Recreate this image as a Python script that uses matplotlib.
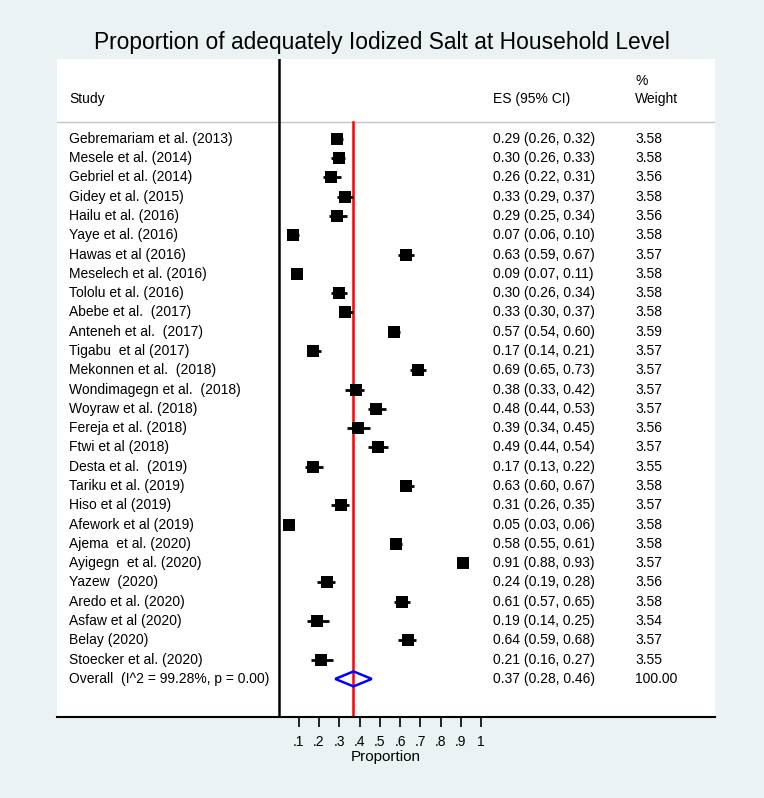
import matplotlib
matplotlib.use('Agg')
import matplotlib.pyplot as plt
from matplotlib.patches import Polygon
import numpy as np

# ---------------- data ----------------
studies = [
    "Gebremariam et al. (2013)", "Mesele et al. (2014)", "Gebriel et al. (2014)",
    "Gidey et al. (2015)", "Hailu et al. (2016)", "Yaye et al. (2016)",
    "Hawas et al (2016)", "Meselech et al. (2016)", "Tololu et al. (2016)",
    "Abebe et al.  (2017)", "Anteneh et al.  (2017)", "Tigabu  et al (2017)",
    "Mekonnen et al.  (2018)", "Wondimagegn et al.  (2018)", "Woyraw et al. (2018)",
    "Fereja et al. (2018)", "Ftwi et al (2018)", "Desta et al.  (2019)",
    "Tariku et al. (2019)", "Hiso et al (2019)", "Afework et al (2019)",
    "Ajema  et al. (2020)", "Ayigegn  et al. (2020)", "Yazew  (2020)",
    "Aredo et al. (2020)", "Asfaw et al (2020)", "Belay (2020)",
    "Stoecker et al. (2020)",
]
es = [0.29, 0.30, 0.26, 0.33, 0.29, 0.07, 0.63, 0.09, 0.30, 0.33, 0.57, 0.17, 0.69, 0.38,
      0.48, 0.39, 0.49, 0.17, 0.63, 0.31, 0.05, 0.58, 0.91, 0.24, 0.61, 0.19, 0.64, 0.21]
lo = [0.26, 0.26, 0.22, 0.29, 0.25, 0.06, 0.59, 0.07, 0.26, 0.30, 0.54, 0.14, 0.65, 0.33,
      0.44, 0.34, 0.44, 0.13, 0.60, 0.26, 0.03, 0.55, 0.88, 0.19, 0.57, 0.14, 0.59, 0.16]
hi = [0.32, 0.33, 0.31, 0.37, 0.34, 0.10, 0.67, 0.11, 0.34, 0.37, 0.60, 0.21, 0.73, 0.42,
      0.53, 0.45, 0.54, 0.22, 0.67, 0.35, 0.06, 0.61, 0.93, 0.28, 0.65, 0.25, 0.68, 0.27]
weight = [3.58, 3.58, 3.56, 3.58, 3.56, 3.58, 3.57, 3.58, 3.58, 3.58, 3.59, 3.57, 3.57, 3.57,
          3.57, 3.56, 3.57, 3.55, 3.58, 3.57, 3.58, 3.58, 3.57, 3.56, 3.58, 3.54, 3.57, 3.55]
overall_label = "Overall  (I^2 = 99.28%, p = 0.00)"
overall_es, overall_lo, overall_hi = 0.37, 0.28, 0.46
overall_weight = 100.00
xticks = [0.1, 0.2, 0.3, 0.4, 0.5, 0.6, 0.7, 0.8, 0.9, 1.0]
xtick_labels = [".1", ".2", ".3", ".4", ".5", ".6", ".7", ".8", ".9", "1"]
title = "Proportion of adequately Iodized Salt at Household Level"
xlabel = "Proportion"

# ---------------- layout ----------------
W, H = 764, 798
BG = '#EAF2F3'
FONT = 'Liberation Sans'
plt.rcParams['font.family'] = [FONT, 'DejaVu Sans']

fig = plt.figure(figsize=(W / 100, H / 100), dpi=100, facecolor=BG)
L, R, T, B = 57, 715, 59, 717
ax = fig.add_axes([L / W, 1 - B / H, (R - L) / W, (B - T) / H])
ax.set_facecolor('white')

PX_UNIT = 202.7      # pixels per unit proportion
X0 = 278.5           # pixel of proportion 0
ROW0, DY = 138.8, 19.29


def px_x(p):
    return (p - X0) / PX_UNIT


def px_y(p):
    return (p - ROW0) / DY


ax.set_xlim(px_x(L), px_x(R))
ax.set_ylim(px_y(B), px_y(T))

for s in ['left', 'top', 'right']:
    ax.spines[s].set_visible(False)
ax.spines['bottom'].set_linewidth(1.5)
ax.spines['bottom'].set_color('black')
ax.set_yticks([])
ax.set_xticks(xticks)
ax.set_xticklabels(xtick_labels, fontsize=10)
ax.tick_params(axis='x', direction='out', length=7, width=1.2, pad=6)

# header
fs = 10
y_head = px_y(99)
ax.text(px_x(69), y_head, "Study", fontsize=fs, va='center', ha='left')
ax.text(px_x(492.7), y_head, "ES (95% CI)", fontsize=fs, va='center', ha='left')
ax.text(px_x(635), y_head, "Weight", fontsize=fs, va='center', ha='left')
ax.text(px_x(635), px_y(81), "%", fontsize=fs, va='center', ha='left')
ax.axhline(px_y(122), color='#c4c4c4', lw=1.0)

# vertical lines
ax.axvline(0, color='black', lw=1.8)
ax.plot([overall_es, overall_es], [px_y(122), px_y(B)], color='#ff0000', lw=1.8,
        zorder=2)

# studies
n = len(studies)
for i in range(n):
    ax.hlines(i, lo[i], hi[i], color='black', lw=2.0, zorder=3)
    ax.plot(es[i], i, marker='s', color='black',
            ms=8.2 * np.sqrt(weight[i] / 3.58), mew=0, zorder=4)
    ax.text(px_x(69), i, studies[i], fontsize=fs, va='center', ha='left')
    ax.text(px_x(492.7), i, f"{es[i]:.2f} ({lo[i]:.2f}, {hi[i]:.2f})",
            fontsize=fs, va='center', ha='left')
    ax.text(px_x(635), i, f"{weight[i]:.2f}", fontsize=fs, va='center', ha='left')

# overall
yo = n
hd = 7.5 / DY
diamond = Polygon([(overall_lo, yo), (overall_es, yo - hd), (overall_hi, yo),
                   (overall_es, yo + hd)], closed=True, fill=False,
                  edgecolor='#0000ff', lw=1.8, zorder=5)
ax.add_patch(diamond)
ax.text(px_x(69), yo, overall_label, fontsize=fs, va='center', ha='left')
ax.text(px_x(492.7), yo, f"{overall_es:.2f} ({overall_lo:.2f}, {overall_hi:.2f})",
        fontsize=fs, va='center', ha='left')
ax.text(px_x(635), yo, f"{overall_weight:.2f}", fontsize=fs, va='center', ha='left')

# title & xlabel
fig.text(0.5, 1 - 43 / H, title, fontsize=16.4, ha='center', va='center')
fig.text(386 / W, 1 - 757 / H, xlabel, fontsize=11, ha='center', va='center')

fig.savefig('out.png', dpi=100, facecolor=BG)
